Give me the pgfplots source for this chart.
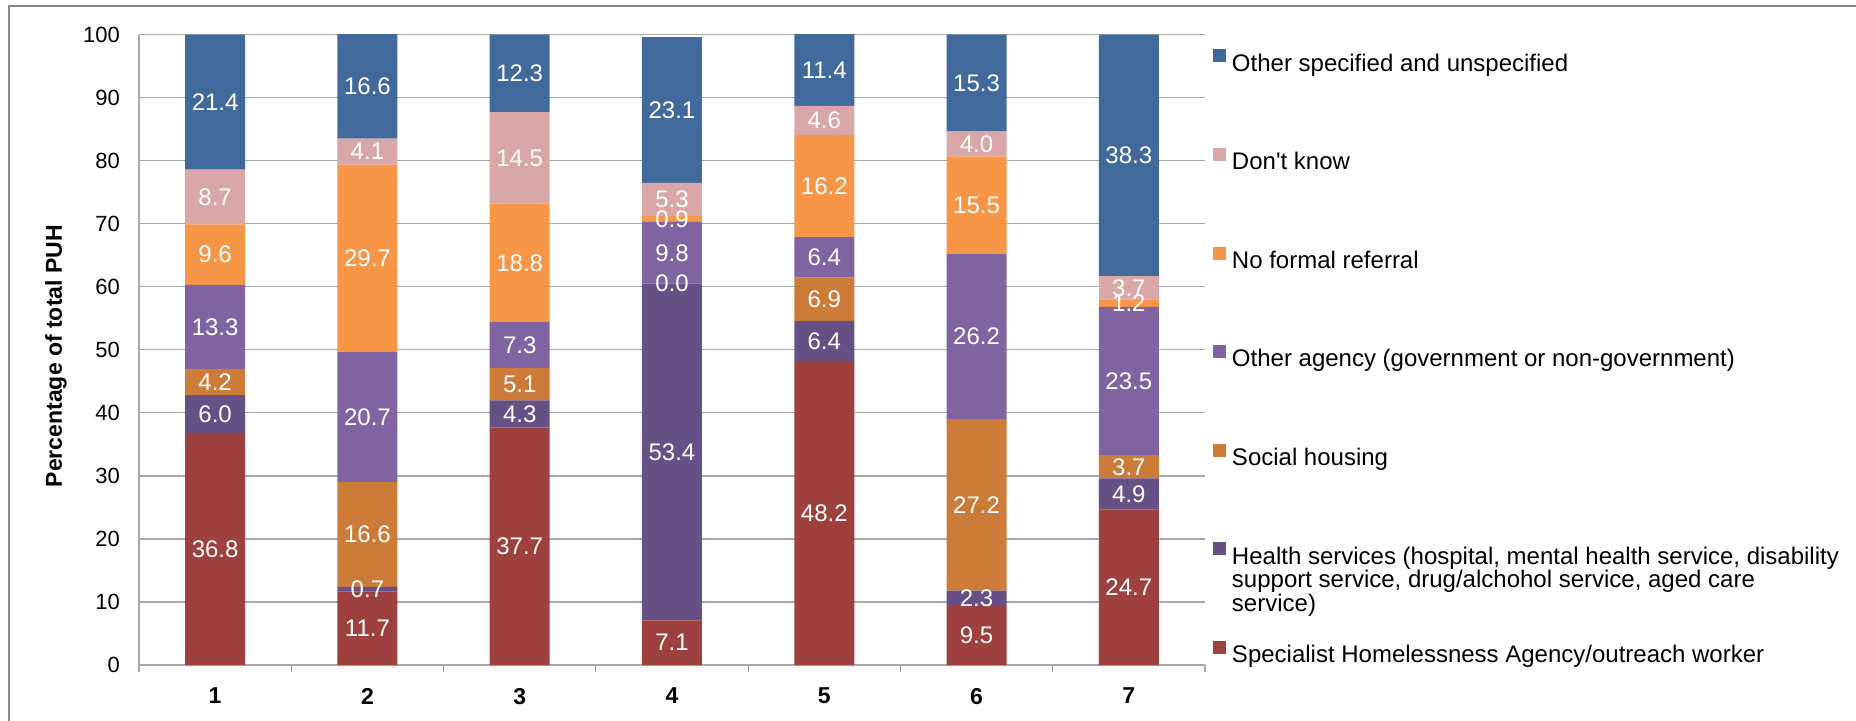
\documentclass[border=0pt]{standalone}
\usepackage{fontspec}
\setmainfont{Liberation Sans}
\usepackage{pgfplots}
\pgfplotsset{compat=1.18}
\usepackage{pgfplotstable}
\definecolor{cOS}{RGB}{65,105,155}
\definecolor{cDK}{RGB}{217,167,168}
\definecolor{cNF}{RGB}{247,150,70}
\definecolor{cOA}{RGB}{128,100,162}
\definecolor{cSH}{RGB}{204,123,56}
\definecolor{cHS}{RGB}{102,80,133}
\definecolor{cSP}{RGB}{158,64,62}
\definecolor{gridc}{RGB}{168,168,168}
\definecolor{framec}{RGB}{138,138,138}

\pgfplotstableread{
x SP HS SH OA NF DK OS
1 36.8 6.0 4.2 13.3 9.6 8.7 21.4
2 11.7 0.7 16.6 20.7 29.7 4.1 16.6
3 37.7 4.3 5.1 7.3 18.8 14.5 12.3
4 7.1 53.4 0.001 9.8 0.9 5.3 23.1
5 48.2 6.4 6.9 6.4 16.2 4.6 11.4
6 9.5 2.3 27.2 26.2 15.5 4.0 15.3
7 24.7 4.9 3.7 23.5 1.2 3.7 38.3
}\datatable

\newcommand\LE[1]{\raisebox{0pt}[8pt][8pt]{#1}}

\begin{document}
\begin{tikzpicture}
\begin{axis}[
  at={(0pt,0pt)}, anchor=south west,
  scale only axis, width=533pt, height=315.15pt,
  ybar stacked, bar width=30pt,
  clip=false,
  xmin=0.5, xmax=7.5, ymin=0, ymax=100,
  xtick={1,...,7},
  minor xtick={0.5,1.5,...,7.5},
  ytick={0,10,...,100},
  axis lines*=left,
  axis line style={draw=gridc, line width=0.6pt},
  ymajorgrids, grid style={draw=gridc, line width=0.6pt},
  major tick length=0pt,
  minor tick length=3.5pt,
  tick align=outside,
  minor tick style={draw=gridc, line width=0.6pt},
  /pgf/number format/assume math mode=true,
  xticklabel style={font=\fontsize{11.5}{13}\selectfont\bfseries, yshift=-8pt},
  yticklabel style={font=\fontsize{11}{12}\selectfont, xshift=-6pt},
  ylabel={Percentage of total PUH},
  ylabel style={font=\fontsize{11.5}{13}\selectfont\bfseries, at={(axis description cs:-0.0779,0.49)}, anchor=center},
  nodes near coords={\pgfmathprintnumber[fixed,fixed zerofill,precision=1,assume math mode=true]{\pgfplotspointmeta}},
  every node near coord/.append style={font=\fontsize{12}{13}\selectfont, text=white, anchor=center},
  legend style={at={(1.0075,0.9766)}, anchor=north west, draw=none, fill=none, inner sep=0pt, outer sep=0pt, row sep=37pt, column sep=3pt, font=\fontsize{12}{11.75}\selectfont, nodes={inner sep=0pt}},
  legend cell align=left,
  reverse legend,
  legend image code/.code={\fill[#1] (0pt,1.05pt) rectangle (6.5pt,7.55pt);},
]
\addplot+[fill=cSP, draw=none, point meta=\thisrow{SP}] table[x=x,y=SP]{\datatable};
\addlegendentry{\LE{Specialist Homelessness Agency/outreach worker}}
\addplot+[fill=cHS, draw=none, point meta=\thisrow{HS}] table[x=x,y=HS]{\datatable};
\addlegendentry{\LE{\parbox[t]{320pt}{Health services (hospital, mental health service, disability\endgraf support service, drug/alchohol service, aged care\endgraf service)}}}
\addplot+[fill=cSH, draw=none, point meta=\thisrow{SH}] table[x=x,y=SH]{\datatable};
\addlegendentry{\LE{Social housing}}
\addplot+[fill=cOA, draw=none, point meta=\thisrow{OA}] table[x=x,y=OA]{\datatable};
\addlegendentry{\LE{Other agency (government or non-government)}}
\addplot+[fill=cNF, draw=none, point meta=\thisrow{NF}] table[x=x,y=NF]{\datatable};
\addlegendentry{\LE{No formal referral}}
\addplot+[fill=cDK, draw=none, point meta=\thisrow{DK}] table[x=x,y=DK]{\datatable};
\addlegendentry{\LE{Don\textquotesingle t know}}
\addplot+[fill=cOS, draw=none, point meta=\thisrow{OS}] table[x=x,y=OS]{\datatable};
\addlegendentry{\LE{Other specified and unspecified}}
\end{axis}
\draw[framec, line width=1pt] (-65pt,-40pt) -- (-65pt,329.5pt) -- (870pt,329.5pt);
\pgfresetboundingbox
\path[use as bounding box] (-69.5pt,-27.5pt) rectangle (858.5pt,332.5pt);
\end{tikzpicture}
\end{document}
